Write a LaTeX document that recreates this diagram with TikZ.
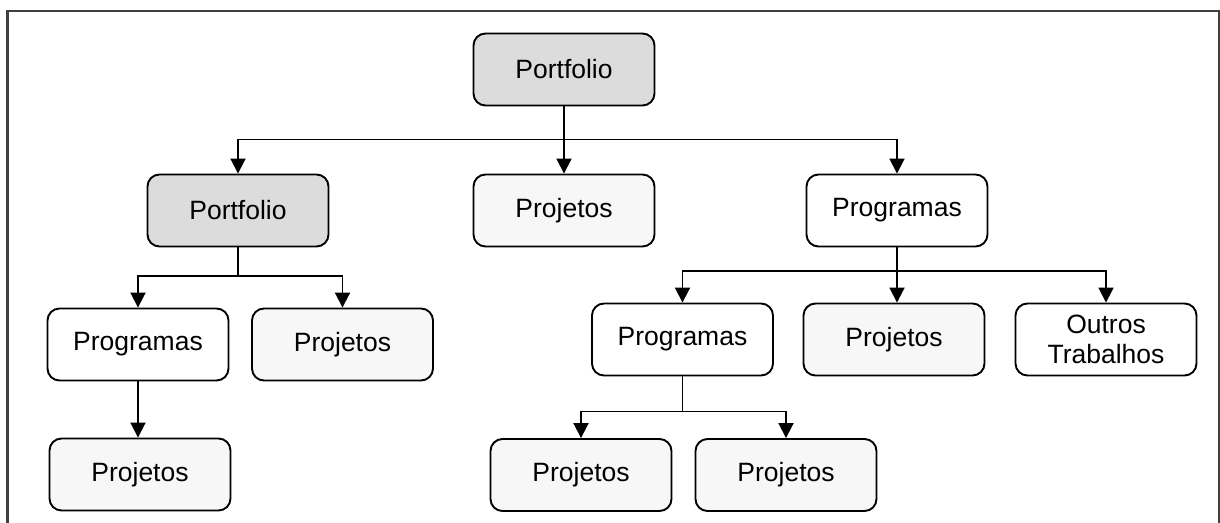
\documentclass[tikz,border=0pt]{standalone}
\usepackage{fontspec}
\setmainfont{Liberation Sans}
\usetikzlibrary{arrows.meta}
\definecolor{boxgray}{HTML}{DCDCDC}
\definecolor{boxlight}{HTML}{F7F7F7}
\definecolor{framegray}{HTML}{404040}
\tikzset{
  unit/.style={draw=black, line width=1.9pt, rounded corners=12pt,
    minimum width=181pt, minimum height=72pt, inner sep=0pt,
    align=center, font=\fontsize{26.5}{30}\selectfont},
  shaded/.style={unit, fill=boxgray},
  light/.style={unit, fill=boxlight},
  plain/.style={unit, fill=white},
  link/.style={line width=1.9pt, -{Triangle[length=15pt,width=15pt]}},
}
\begin{document}
\begin{tikzpicture}[x=1pt,y=-1pt]
\useasboundingbox (0,0) rectangle (1220,522);
% outer frame, open at the bottom
\draw[framegray, line width=2.4pt] (7.5,524) -- (7.5,11) -- (1219,11) -- (1219,524);

% level 0
\node[shaded] (p0) at (564,69.5) {Portfolio};
% level 1
\node[shaded] (p1) at (238,210.5) {Portfolio};
\node[light]  (j1) at (564,210.5) {Projetos};
\node[plain]  (g1) at (897,210.5) {Programas};
% level 2
\node[plain]  (g3) at (138,344.5) {Programas};
\node[light]  (j2) at (342.5,344.5) {Projetos};
\node[plain]  (g2) at (682.5,339.5) {Programas};
\node[light]  (j3) at (894,339.5) {Projetos};
\node[plain]  (o1) at (1106,339.5) {Outros\\Trabalhos};
% level 3
\node[light]  (j4) at (140,474.5) {Projetos};
\node[light]  (j5) at (581,475) {Projetos};
\node[light]  (j6) at (786,475) {Projetos};

% connectors
\draw[link] (p0.south) -- ++(0,33) -| (p1.north);
\draw[link] (p0.south) -- ++(0,33) -| (g1.north);
\draw[link] (p0.south) -- (j1.north);

\draw[link] (p1.south) -- ++(0,28.5) -| (g3.north);
\draw[link] (p1.south) -- ++(0,28.5) -| (j2.north);

\draw[link] (g1.south) -- ++(0,23.5) -| (g2.north);
\draw[link] (g1.south) -- ++(0,23.5) -| (o1.north);
\draw[link] (g1.south) -- (g1.south |- j3.north);

\draw[link] (g2.south) -- ++(0,35) -| (j5.north);
\draw[link] (g2.south) -- ++(0,35) -| (j6.north);

\draw[link] (g3.south) -- (g3.south |- j4.north);
\end{tikzpicture}
\end{document}
